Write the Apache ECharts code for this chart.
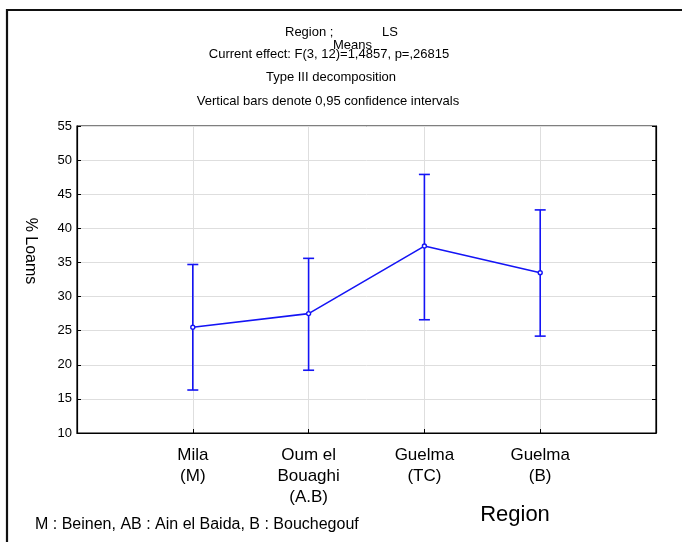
<!DOCTYPE html>
<html>
<head>
<meta charset="utf-8">
<script src="https://cdn.jsdelivr.net/npm/echarts@6/dist/echarts.min.js"></script>
<style>
  html, body { margin: 0; padding: 0; background: #fff; }
  #main { width: 682px; height: 542px; }
</style>
</head>
<body>
<div id="main"></div>
<script>
// data
var regions = ['Mila\n(M)', 'Oum el\nBouaghi\n(A.B)', 'Guelma\n(TC)', 'Guelma\n(B)'];
var means = [25.5, 27.5, 37.4, 33.5];
var lower = [16.3, 19.2, 26.6, 24.2];
var upper = [34.7, 35.6, 47.9, 42.7];
var yTicks = [10, 15, 20, 25, 30, 35, 40, 45, 50, 55];

var FONT = 'Liberation Sans, Arial, sans-serif';
var BLUE = '#1414f5';

var chart = echarts.init(document.getElementById('main'));

var meanData = means.map(function (v, i) { return [i + 1, v]; });
var barData = lower.map(function (v, i) { return [i + 1, v, upper[i]]; });

function txt(s, x, y, size, align) {
  return {
    type: 'text', x: x, y: y,
    style: { text: s, font: size + 'px ' + FONT, fill: '#000', align: align || 'center', verticalAlign: 'middle' }
  };
}

var option = {
  animation: false,
  backgroundColor: '#fff',
  textStyle: { fontFamily: FONT, color: '#000' },
  grid: {
    left: 77, right: 26, top: 126, bottom: 109,
    show: true, borderColor: '#000', borderWidth: 1.2
  },
  xAxis: {
    type: 'value',
    min: 0, max: 5, interval: 1,
    axisLine: { show: true, lineStyle: { color: '#000', width: 1.2 } },
    axisTick: { show: true, inside: true, length: 4, lineStyle: { color: '#000' } },
    splitLine: { show: true, lineStyle: { color: '#dedede', width: 1 } },
    axisLabel: {
      margin: 12,
      fontSize: 17, lineHeight: 21, color: '#000', fontFamily: FONT,
      verticalAlign: 'top',
      formatter: function (v) { return regions[v - 1] || ''; }
    }
  },
  yAxis: [{
    type: 'value',
    min: yTicks[0], max: yTicks[yTicks.length - 1], interval: 5,
    axisLine: { show: true, lineStyle: { color: '#000', width: 1.2 } },
    axisTick: { show: true, inside: true, length: 4, lineStyle: { color: '#000' } },
    splitLine: { show: true, lineStyle: { color: '#dedede', width: 1 } },
    axisLabel: { margin: 5, fontSize: 13, color: '#000', fontFamily: FONT }
  }, {
    type: 'value', position: 'right',
    min: yTicks[0], max: yTicks[yTicks.length - 1], interval: 5,
    axisLine: { show: true, lineStyle: { color: '#000', width: 1.2 } },
    axisTick: { show: true, inside: true, length: 4, lineStyle: { color: '#000' } },
    splitLine: { show: false },
    axisLabel: { show: false }
  }],
  series: [{
    type: 'custom',
    data: barData,
    z: 3,
    renderItem: function (params, api) {
      var x = api.value(0);
      var lo = api.coord([x, api.value(1)]);
      var hi = api.coord([x, api.value(2)]);
      var w = 5.5;
      var style = { stroke: BLUE, lineWidth: 1.6 };
      return {
        type: 'group',
        children: [
          { type: 'line', shape: { x1: lo[0], y1: lo[1], x2: hi[0], y2: hi[1] }, style: style },
          { type: 'line', shape: { x1: lo[0] - w, y1: lo[1], x2: lo[0] + w, y2: lo[1] }, style: style },
          { type: 'line', shape: { x1: hi[0] - w, y1: hi[1], x2: hi[0] + w, y2: hi[1] }, style: style }
        ]
      };
    }
  }, {
    type: 'line',
    data: meanData,
    z: 4,
    symbol: 'circle',
    symbolSize: 4,
    lineStyle: { color: BLUE, width: 1.6 },
    itemStyle: { color: '#fff', borderColor: BLUE, borderWidth: 1.4 }
  }],
  graphic: [
    // outer frame (top and left edges)
    { type: 'polyline', shape: { points: [[7, 542], [7, 10], [682, 10]] },
      style: { stroke: '#111', lineWidth: 2.2, fill: null } },
    txt('Region ;', 285, 32, 13, 'left'),
    txt('LS', 382, 32, 13, 'left'),
    txt('Means', 333, 45, 13, 'left'),
    txt('Current effect: F(3, 12)=1,4857, p=,26815', 329, 54, 13),
    txt('Type III decomposition', 331, 77, 13),
    txt('Vertical bars denote 0,95 confidence intervals', 328, 101, 13),
    {
      type: 'text', x: 30, y: 251, rotation: -Math.PI / 2,
      style: { text: '% Loams', font: '16px ' + FONT, fill: '#000', align: 'center', verticalAlign: 'middle' }
    },
    txt('Region', 515, 515, 22),
    txt('M : Beinen, AB : Ain el Baida, B : Bouchegouf', 35, 525, 16, 'left')
  ]
};

chart.setOption(option);
</script>
</body>
</html>
